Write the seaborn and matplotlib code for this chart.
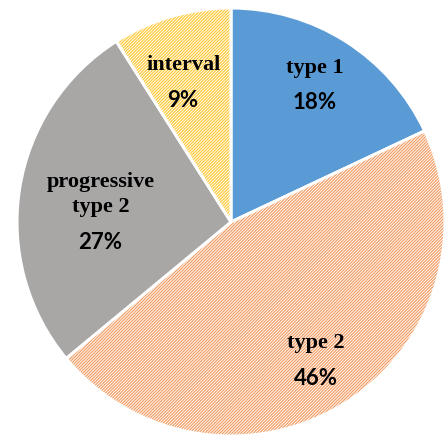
import matplotlib
matplotlib.use("Agg")
import matplotlib.pyplot as plt
import seaborn as sns
import numpy as np

# Share of each category (percent), listed clockwise from 12 o'clock
categories = ["type 1", "type 2", "progressive\ntype 2", "interval"]
shares = [18, 46, 27, 9]
pct_labels = ["18%", "46%", "27%", "9%"]

sns.set_theme(style="white")
plt.rcParams["hatch.linewidth"] = 0.65

colors = ["#5B9BD5", "#F29E66", "#A9A6A6", "#FDC938"]
hatches = [None, "/" * 11, None, "/" * 11]
# label anchor: fraction of radius and angular shift from the wedge middle
label_r = [0.75, 0.76, 0.61, 0.69]
label_dtheta = [1.0, -1.0, 10.0, 2.7]

fig = plt.figure(figsize=(4.47, 4.43), dpi=100)
R = 214
cx, cy = 231, 222
ax = fig.add_axes([(cx - R) / 447, (443 - cy - R) / 443, 2 * R / 447, 2 * R / 443])

wedges, _ = ax.pie(
    shares,
    colors=colors,
    startangle=90,
    counterclock=False,
    wedgeprops=dict(edgecolor="white", linewidth=2.2),
)
for w, h in zip(wedges, hatches):
    if h:
        w.set_hatch(h)

ax.set_xlim(-1, 1)
ax.set_ylim(-1, 1)
ax.set_aspect("equal")
ax.axis("off")

for w, name, pct, r, dt in zip(wedges, categories, pct_labels, label_r, label_dtheta):
    mid = np.deg2rad((w.theta1 + w.theta2) / 2 + dt)
    x, y = r * np.cos(mid), r * np.sin(mid)
    ax.text(x, y + 0.035, name, ha="center", va="bottom",
            fontfamily="Liberation Serif", fontweight="bold", fontsize=16,
            color="black", linespacing=1.3)
    ax.text(x, y - 0.035, pct, ha="center", va="top",
            fontfamily="Lato", fontweight="bold", fontsize=16, color="black")

fig.savefig("out.png", dpi=100, facecolor="white")
